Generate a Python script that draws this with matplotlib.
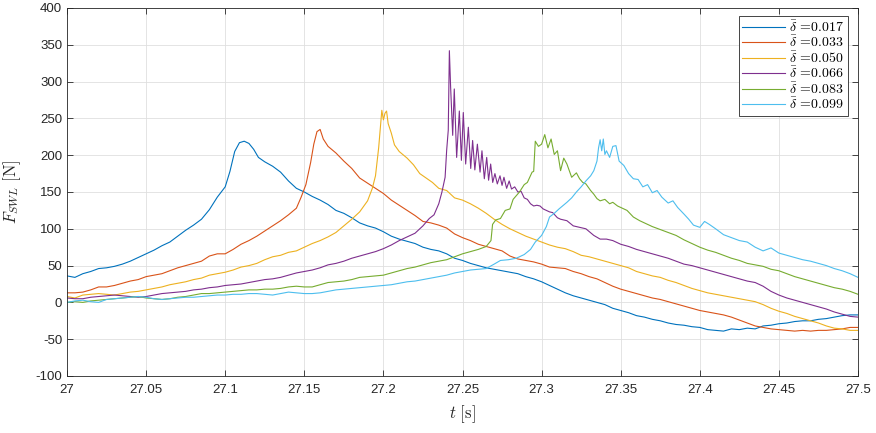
import numpy as np
import matplotlib
matplotlib.use("Agg")
import matplotlib.pyplot as plt

# time is given in ms after t = 27 s, force in N
ms_017 = [0, 5, 10, 15, 20, 25, 30, 35, 40, 45, 50, 55, 60, 65, 70, 75, 80, 85, 90, 95, 100,
          103, 106, 109, 112, 115, 118, 121,
          125, 130, 135, 140, 145, 150, 155, 160, 165, 170, 175, 180, 185, 190, 195, 200, 205,
          210, 215, 220, 225, 230, 235, 240, 245, 250, 255, 260, 265, 270, 275, 280, 285, 290,
          295, 300, 305, 310, 315, 320, 325, 330, 335, 340, 345, 350, 355, 360, 365, 370, 375,
          380, 385, 390, 395, 400, 405, 410, 415, 420, 425, 430, 435, 440, 445, 450, 455, 460,
          465, 470, 475, 480, 485, 490, 495, 500]
f_017 = [36, 34, 39, 42, 46, 47, 49, 52, 56, 61, 66, 71, 77, 82, 90, 98, 105, 113, 126, 143, 157,
         178, 205, 217, 219, 216, 208, 197,
         191, 185, 177, 165, 155, 150, 144, 139, 133, 125, 121, 115, 108, 104, 101, 96, 90,
         86, 83, 80, 75, 72, 70, 66, 60, 57, 53, 50, 47, 45, 43, 41, 39, 35,
         32, 28, 23, 18, 13, 9, 6, 3, 0, -3, -8, -11, -14, -18, -20, -23, -25,
         -28, -30, -31, -33, -34, -37, -38, -39, -36, -37, -35, -36, -32, -31, -29, -28, -26,
         -25, -25, -23, -22, -20, -18, -17, -17]

ms_033 = [0, 5, 10, 15, 20, 25, 30, 35, 40, 45, 50, 55, 60, 65, 70, 75, 80, 85, 90, 95, 100,
          105, 110, 115, 120, 125, 130, 135, 140, 145,
          148, 151, 154, 156, 158, 160, 162, 165,
          170, 175, 180, 185, 190, 195, 200, 205, 210, 215, 220, 225, 230, 235, 240, 245, 250,
          255, 260, 265, 270, 275, 280, 285, 290, 295, 300, 305, 310, 315, 320, 325, 330, 335,
          340, 345, 350, 355, 360, 365, 370, 375, 380, 385, 390, 395, 400, 405, 410, 415, 420,
          425, 430, 435, 440, 445, 450, 455, 460, 465, 470, 475, 480, 485, 490, 495, 500]
f_033 = [13, 13, 14, 17, 21, 21, 23, 26, 29, 31, 35, 37, 39, 43, 47, 50, 53, 56, 63, 66, 66,
         72, 79, 84, 90, 97, 104, 111, 119, 128,
         143, 160, 190, 215, 232, 235, 222, 212,
         203, 192, 182, 169, 162, 155, 148, 139, 132, 125, 118, 110, 108, 105, 101, 93, 88,
         84, 79, 76, 73, 70, 63, 59, 57, 55, 52, 48, 47, 46, 42, 39, 35, 32,
         27, 22, 18, 15, 12, 9, 6, 4, 1, -2, -5, -8, -11, -13, -15, -17, -20,
         -24, -28, -32, -34, -36, -37, -38, -39, -38, -39, -38, -38, -37, -36, -34, -34]

ms_050 = [0, 5, 10, 15, 20, 25, 30, 35, 40, 45, 50, 55, 60, 65, 70, 75, 80, 85, 90, 95, 100,
          105, 110, 115, 120, 125, 130, 135, 140, 145, 150, 155, 160,
          165, 170, 175, 180, 185, 190, 193, 195, 197, 199, 200, 201, 202, 203, 205, 207, 210,
          215, 219, 223, 227, 231, 235, 240, 245, 250, 255, 260, 265, 270, 275, 280, 285, 290,
          295, 300, 305, 310, 315, 320, 325, 330, 335, 340, 345, 350, 355, 360, 365, 370, 375,
          380, 385, 390, 395, 400, 405, 410, 415, 420, 425, 430, 435, 440, 445, 450, 455, 460,
          465, 470, 475, 480, 485, 490, 495, 500]
f_050 = [8, 6, 10, 11, 12, 11, 10, 12, 14, 15, 17, 19, 21, 24, 26, 28, 31, 33, 37, 39, 41,
         44, 48, 50, 53, 58, 62, 64, 68, 70, 75, 80, 84,
         89, 95, 104, 113, 123, 138, 155, 172, 210, 261, 248, 257, 260, 243, 230, 214, 205,
         196, 187, 175, 169, 163, 155, 152, 142, 139, 134, 128, 121, 113, 106, 100, 95, 90,
         86, 82, 78, 75, 73, 69, 64, 62, 59, 56, 53, 50, 47, 42, 39, 36, 34,
         30, 27, 23, 19, 16, 13, 11, 9, 7, 5, 3, 1, -3, -8, -12, -15, -19,
         -22, -25, -28, -32, -35, -36, -38, -38]

ms_066 = [0, 5, 10, 15, 20, 25, 30, 35, 40, 45, 50, 55, 60, 65, 70, 75, 80, 85, 90, 95, 100,
          105, 110, 115, 120, 125, 130, 135, 140, 145, 150, 155, 160, 165, 170, 175, 180, 185,
          190, 195, 200, 205, 210, 215, 220, 225,
          229, 232, 235, 237, 239, 240, 241, 241.7, 242.5, 243.8, 244.8, 246.3, 248, 249.3,
          250.5, 252, 253.7, 255.2, 256.4, 257.8, 259.4, 261.1, 262.3, 263.8, 265.3, 266.5,
          267.8, 269.1, 270.5, 272, 273.7, 275, 276.2, 277.9, 279.5, 281, 283, 285, 287, 289,
          291, 293, 295, 297, 299, 301, 303, 305, 307, 310, 312, 316, 320, 324, 328, 333, 337,
          341, 345, 350, 355, 360, 365, 370, 375, 380, 385, 390, 395, 400, 405, 410, 415, 420,
          425, 430, 435, 440, 445, 450, 455, 460, 465, 470, 475, 480, 485, 490, 495, 500]
f_066 = [6, 5, 5, 7, 8, 9, 10, 9, 8, 7, 8, 10, 12, 13, 14, 15, 17, 18, 20, 21, 23,
         24, 25, 27, 29, 31, 32, 34, 37, 40, 42, 44, 47, 51, 53, 56, 60, 63,
         66, 69, 73, 78, 84, 89, 94, 104,
         114, 119, 134, 150, 170, 207, 234, 342, 292, 227, 290, 197, 260, 193,
         258, 188, 238, 182, 220, 180, 215, 177, 206, 168, 197, 166,
         188, 163, 175, 161, 172, 159, 170, 155, 165, 154, 157, 150, 151, 142,
         140, 134, 131, 132, 131, 127, 125, 123, 122, 115, 113, 111, 104, 102, 100, 91, 86,
         86, 84, 79, 76, 72, 69, 66, 63, 60, 56, 52, 50, 47, 44, 41, 38, 35,
         32, 29, 27, 22, 15, 10, 6, 3, 0, -3, -6, -9, -13, -16, -19, -20]

ms_083 = [0, 5, 10, 15, 20, 25, 30, 35, 40, 45, 50, 55, 60, 65, 70, 75, 80, 85, 90, 95, 100,
          105, 110, 115, 120, 125, 130, 135, 140, 145, 150, 155, 160, 165, 170, 175, 180, 185,
          190, 195, 200, 205, 210, 215, 220, 225, 230, 235, 240, 245, 250, 255, 260,
          265, 268, 269, 271, 274, 277, 280, 282, 286, 289, 291, 294, 295, 296, 298, 300, 302,
          304, 306, 308, 310, 312, 314, 316, 319, 322, 324, 326, 328, 331, 333, 335, 337, 340,
          343, 345, 348, 350, 354, 358, 362, 366, 370, 375, 380, 385, 390, 395, 400, 405, 410,
          415, 420, 425, 430, 435, 440, 445, 450, 455, 460, 465, 470, 475, 480, 485, 490, 495,
          500]
f_083 = [0, 1, 0, 2, 3, 4, 5, 6, 7, 8, 6, 5, 4, 5, 7, 8, 10, 12, 12, 13, 14,
         15, 16, 17, 17, 18, 18, 19, 21, 22, 21, 21, 24, 27, 28, 29, 31, 34,
         35, 36, 37, 40, 43, 46, 48, 51, 54, 56, 58, 62, 66, 69, 72,
         76, 84, 106, 112, 114, 125, 127, 140, 150, 160, 163, 177, 178, 219, 212, 215, 228,
         210, 222, 201, 206, 179, 196, 188, 170, 176, 168, 163, 161, 152, 147, 141, 138, 140,
         134, 136, 131, 129, 125, 116, 111, 107, 103, 99, 95, 91, 85, 80, 75, 71, 68,
         64, 60, 57, 53, 51, 49, 45, 43, 39, 35, 32, 29, 26, 23, 20, 18, 15,
         11]

ms_099 = [0, 5, 10, 15, 20, 25, 30, 35, 40, 45, 50, 55, 60, 65, 70, 75, 80, 85, 90, 95, 100,
          105, 110, 115, 120, 125, 130, 135, 140, 145, 150, 155, 160, 165, 170, 175, 180, 185,
          190, 195, 200, 205, 210, 215, 220, 225, 230, 235, 240, 245, 250,
          255, 260, 265, 270, 274, 279, 284, 289, 293, 296, 300, 303, 305, 308, 311, 316, 319,
          322, 325, 328, 331, 333, 335, 336, 337, 338, 339, 340, 341, 343, 345, 347, 349, 352,
          355, 358, 361, 364, 367, 370, 373, 376, 380, 383, 386, 390, 393, 396, 400, 403, 406,
          410, 415, 420, 425, 430, 435, 440, 445, 450, 455, 460, 465, 470, 475, 480, 485, 490,
          495, 500]
f_099 = [0, 2, 3, 1, 0, 4, 5, 6, 7, 8, 7, 5, 4, 5, 6, 7, 7, 8, 9, 10, 10,
         11, 11, 12, 12, 11, 10, 12, 14, 13, 12, 12, 13, 15, 17, 18, 19, 20,
         21, 22, 23, 24, 26, 28, 29, 31, 33, 35, 37, 40, 42,
         44, 45, 46, 52, 57, 58, 60, 65, 72, 82, 91, 103, 116, 121, 127, 136, 142,
         150, 157, 165, 172, 179, 192, 210, 221, 206, 222, 201, 206, 197, 212, 213, 192, 186,
         175, 168, 167, 157, 160, 149, 152, 143, 135, 138, 129, 120, 113, 105, 102, 110, 106,
         100, 92, 88, 84, 82, 75, 70, 74, 67, 64, 61, 58, 56, 53, 50, 46, 43,
         39, 34]

labels = ["0.017", "0.033", "0.050", "0.066", "0.083", "0.099"]
colors = ["#0072BD", "#D95319", "#EDB120", "#7E2F8E", "#77AC30", "#4DBEEE"]

x_ticks = [27, 27.05, 27.1, 27.15, 27.2, 27.25, 27.3, 27.35, 27.4, 27.45, 27.5]
x_ticklabels = ["27", "27.05", "27.1", "27.15", "27.2", "27.25", "27.3", "27.35", "27.4", "27.45", "27.5"]
y_ticks = [-100, -50, 0, 50, 100, 150, 200, 250, 300, 350, 400]

series = [(ms_017, f_017), (ms_033, f_033), (ms_050, f_050),
          (ms_066, f_066), (ms_083, f_083), (ms_099, f_099)]

plt.rcParams['font.family'] = ['Liberation Sans', 'DejaVu Sans']
plt.rcParams['mathtext.fontset'] = 'cm'
plt.rcParams['axes.unicode_minus'] = False

fig = plt.figure(figsize=(8.76, 4.33), dpi=100)
ax = fig.add_axes([67 / 876, 57 / 433, 791 / 876, 368 / 433])

for (ms, f), c, lab in zip(series, colors, labels):
    t = 27 + np.array(ms) / 1000.0
    ax.plot(t, f, color=c, lw=0.8, label=r"$\bar{\delta}$ =" + lab)

ax.set_xlim(27, 27.5)
ax.set_ylim(-100, 400)
ax.set_xticks(x_ticks)
ax.set_xticklabels(x_ticklabels)
ax.set_yticks(y_ticks)

ax.grid(True, color="#dfdfdf", lw=0.6)
ax.set_axisbelow(True)
ax.tick_params(direction="in", top=True, right=True, length=4, width=0.6,
               colors="#262626", labelsize=9.5)
ax.tick_params(axis="x", pad=6)
for s in ax.spines.values():
    s.set_color("#262626")
    s.set_linewidth(0.6)

ax.set_xlabel(r"$t\ [\mathrm{s}]$", fontsize=12, color="#262626")
ax.set_ylabel(r"$F_{SWL}\ [\mathrm{N}]$", fontsize=12, color="#262626")
ax.xaxis.set_label_coords(0.5, -0.075)
ax.yaxis.set_label_coords(-0.055, 0.5)

# legend text in Computer Modern, like the LaTeX interpreter
leg = ax.legend(loc="upper right", bbox_to_anchor=(0.9873, 0.978), borderaxespad=0,
                prop={"family": "cmr10", "size": 10}, handlelength=3.1, handletextpad=0.3,
                labelspacing=0.02, borderpad=0.25, fancybox=False, edgecolor="#262626",
                framealpha=1)
leg.get_frame().set_linewidth(0.6)

fig.savefig("out.png", dpi=100)
